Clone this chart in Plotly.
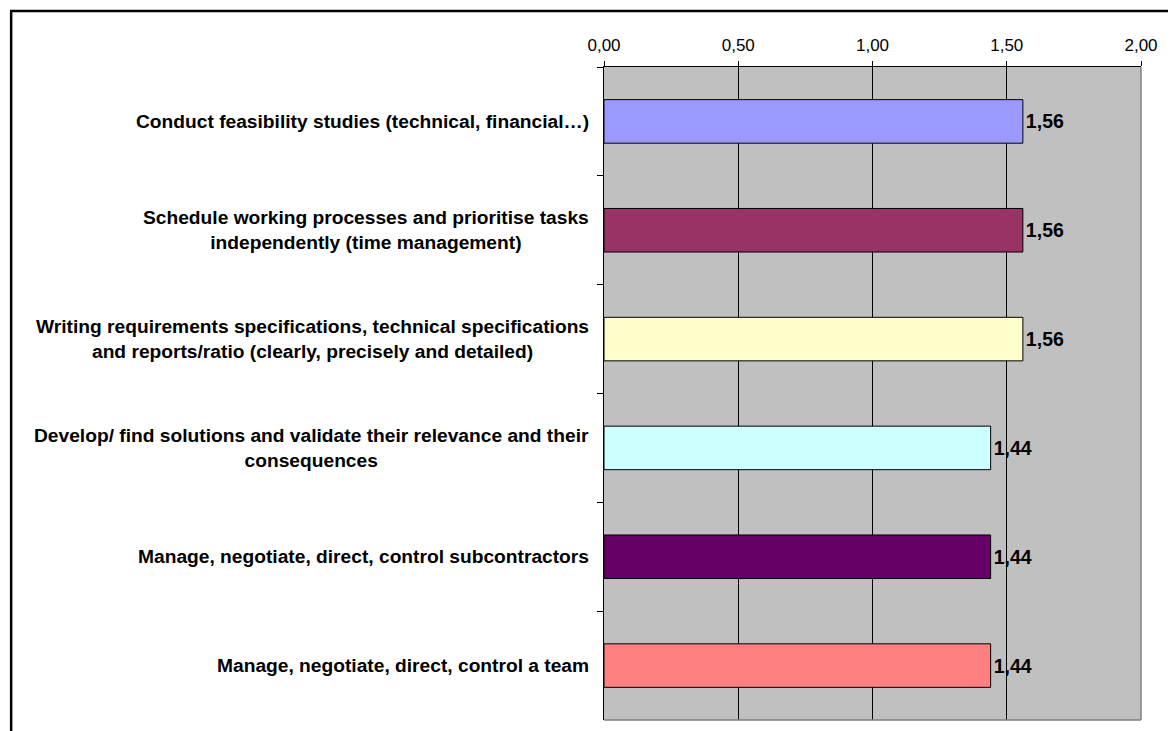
import plotly.graph_objects as go

# données
competences = [
    "Conduct feasibility studies (technical, financial…)",
    "Schedule working processes and prioritise tasks<br>independently (time management)",
    "Writing requirements specifications, technical specifications<br>and reports/ratio (clearly, precisely and detailed)",
    "Develop/ find solutions and validate their relevance and their<br>consequences",
    "Manage, negotiate, direct, control subcontractors",
    "Manage, negotiate, direct, control a team",
]
valeurs = [1.56, 1.56, 1.56, 1.44, 1.44, 1.44]
couleurs = ["#9999FF", "#993366", "#FFFFCC", "#CCFFFF", "#660066", "#FF8080"]
graduations = [0, 0.5, 1.0, 1.5, 2.0]

police = "Liberation Sans, Arial, sans-serif"

figure = go.Figure(go.Bar(
    x=valeurs,
    y=competences,
    orientation="h",
    marker=dict(color=couleurs, line=dict(color="black", width=1)),
    width=0.4,
    texttemplate="%{x:.2f}",
    textposition="outside",
    textfont=dict(family=police, size=19.5, color="black", weight="bold"),
    cliponaxis=False,
    hoverinfo="skip",
))

# étiquettes des catégories (lignes centrées, bloc aligné à droite)
for c in competences:
    figure.add_annotation(
        x=0, xref="paper", y=c, yref="y",
        text="<b>" + c + "</b>", showarrow=False,
        xanchor="right", align="center", xshift=-13,
        font=dict(family=police, size=19.2, color="black"),
    )

# la page ajoute 8 px de marge autour de la figure : on compense
figure.update_layout(
    width=1176, height=731,
    margin=dict(l=596, r=43, t=59, b=19),
    paper_bgcolor="white",
    plot_bgcolor="#C0C0C0",
    separators=", ",
    showlegend=False,
    font=dict(family=police, color="black"),
    shapes=[
        dict(type="line", xref="paper", yref="paper", x0=1, x1=1, y0=0, y1=1,
             line=dict(color="#808080", width=1.5), layer="above"),
        dict(type="line", xref="paper", yref="paper", x0=0, x1=1, y0=0, y1=0,
             line=dict(color="#808080", width=1.5), layer="above"),
        dict(type="rect", xref="paper", yref="paper", x0=-1.104, x1=1.3, y0=-0.2, y1=1.0858,
             line=dict(color="black", width=2.5), fillcolor="rgba(0,0,0,0)"),
    ],
)
figure.update_xaxes(
    side="top", range=[0, 2], tickvals=graduations, tickformat=".2f",
    showline=True, linecolor="black", linewidth=1,
    ticks="outside", ticklen=5, tickcolor="black", ticklabelstandoff=3,
    showgrid=True, gridcolor="black", gridwidth=1, zeroline=False,
    tickfont=dict(family=police, size=17, color="black"),
)
figure.update_yaxes(
    autorange="reversed", showticklabels=False,
    showline=True, linecolor="black", linewidth=1,
    ticks="outside", ticklen=6, tickcolor="black", tickson="boundaries",
    showgrid=False, zeroline=False,
)

figure.write_html("out.html")
print("out.html généré")
